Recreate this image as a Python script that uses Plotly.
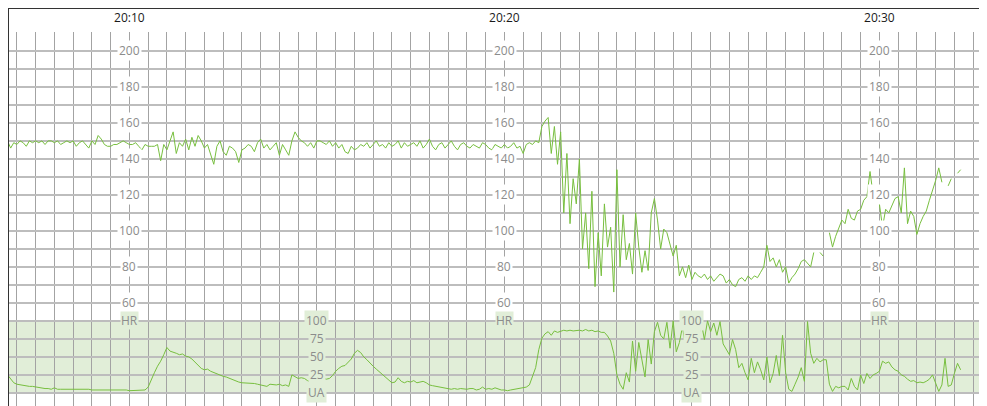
import plotly.graph_objects as go
import pandas as pd

# Trace sampled every 5 seconds, first sample at 20:06:45
START = "2024-05-14 20:06:45"
STEP = "5s"

# Foetal heart rate (bpm), None = signal lost
hr = [
    150, 146, 149, 148, 150, 149, 147, 150, 149, 150,
    149, 150, 148, 150, 150, 149, 150, 148, 149, 150,
    149, 150, 147, 149, 150, 148, 146, 150, 148, 153,
    151, 148, 147, 147, 148, 148, 149, 150, 149, 148,
    148, 149, 147, 145, 148, 147, 147, 147, 148, 139,
    148, 145, 150, 155, 143, 149, 147, 151, 145, 152,
    147, 153, 150, 146, 148, 143, 137, 147, 150, 144,
    142, 147, 146, 144, 138, 145, 146, 148, 147, 144,
    149, 151, 146, 148, 145, 147, 149, 142, 148, 145,
    142, 150, 155, 152, 150, 149, 147, 149, 146, 150,
    150, 149, 148, 150, 147, 149, 146, 148, 144, 143,
    147, 145, 146, 148, 147, 149, 146, 148, 150, 147,
    148, 146, 149, 147, 148, 150, 146, 149, 147, 148,
    149, 147, 150, 146, 148, 151, 147, 145, 148, 149,
    146, 148, 150, 147, 145, 148, 149, 147, 146, 148,
    147, 146, 149, 148, 146, 145, 148, 147, 146, 148,
    146, 147, 149, 146, 147, 143, 148, 149, 148, 150,
    149, 158, 161, 163, 143, 158, 137, 155, 110, 143,
    104, 129, 115, 140, 90, 110, 79, 122, 69, 99,
    75, 115, 91, 102, 66, 134, 80, 109, 84, 93,
    76, 110, 91, 77, 89, 78, 110, 118, 106, 90,
    101, 99, 92, 86, 92, 75, 80, 74, 81, 73,
    77, 75, 74, 76, 73, 75, 72, 74, 76, 75,
    71, 73, 70, 69, 73, 74, 72, 75, 73, 75,
    74, 77, 80, 92, 83, 85, 80, 84, 77, 80,
    71, 74, 76, 79, 83, 84, 82, 80, 88, None,
    88, 86, None, 99, 91, 97, 101, 106, 104, 112,
    107, 106, 111, 112, 117, 119, 133, 120, 117, 115,
    102, 112, 110, 114, 118, 119, 110, 135, 104, 111,
    108, 98, 104, 108, 111, 117, 122, 128, 135, 127,
    None, 125, 129, None, 132, 134,
]

# Uterine activity (0-100)
ua = [
    25, 19, 14, 12, 11, 11, 10, 9, 9, 8,
    7, 7, 6, 6, 5, 7, 5, 5, 5, 6,
    5, 5, 5, 6, 5, 5, 5, 4, 4, 5,
    4, 4, 5, 4, 4, 5, 4, 4, 4, 3,
    3, 3, 3, 3, 4, 8, 19, 28, 37, 44,
    53, 63, 58, 57, 55, 53, 54, 51, 50, 47,
    43, 38, 34, 32, 33, 30, 28, 26, 24, 23,
    22, 20, 19, 17, 15, 14, 14, 14, 13, 13,
    12, 11, 10, 9, 12, 11, 11, 12, 10, 11,
    9, 25, 22, 20, 21, 20, 17, 15, 63, 20,
    18, 20, 19, 20, 24, 30, 34, 37, 38, 42,
    47, 55, 59, 56, 50, 46, 41, 37, 33, 29,
    25, 21, 17, 14, 15, 21, 16, 14, 16, 15,
    17, 14, 15, 16, 14, 11, 10, 9, 8, 7,
    6, 6, 5, 6, 5, 6, 5, 5, 6, 6,
    4, 5, 8, 5, 6, 5, 7, 5, 4, 4,
    3, 4, 5, 6, 6, 7, 8, 11, 22, 35,
    60, 76, 82, 85, 80, 86, 84, 86, 87, 86,
    87, 86, 87, 87, 86, 88, 86, 87, 85, 86,
    84, 84, 79, 72, 55, 25, 12, 5, 28, 15,
    72, 30, 70, 45, 22, 74, 40, 85, 98, 80,
    75, 98, 62, 100, 57, 70, 92, 62, 46, 73,
    53, 74, 98, 74, 100, 85, 97, 80, 99, 68,
    60, 53, 74, 60, 35, 41, 28, 18, 48, 28,
    43, 32, 18, 50, 14, 27, 52, 24, 80, 28,
    5, 2, 12, 22, 35, 16, 99, 55, 41, 48,
    43, 46, 46, 12, 2, 9, 7, 9, 9, 4,
    20, 9, 4, 25, 13, 27, 20, 25, 27, 30,
    44, 41, 43, 36, 32, 30, 25, 23, 19, 16,
    17, 14, 15, 14, 16, 19, 25, 12, 2, 11,
    48, 9, 11, 27, 41, 32,
]

# scale labels drawn inside the paper
hr_label_times = ["20:10", "20:20", "20:30"]
hr_label_vals = [200, 180, 160, 140, 120, 100, 80, 60]
ua_label_times = ["20:15", "20:25"]
ua_label_vals = [100, 75, 50, 25]

DAY = "2024-05-14 "
X_RANGE = [DAY + "20:06:45.76", DAY + "20:32:52.16"]
HR_RANGE = [2.7, 210.5]
# UA 0..100 sits on the HR paper between 10 and 50 bpm
UA_RANGE = [(HR_RANGE[0] - 10) / 0.4, (HR_RANGE[1] - 10) / 0.4]

GREEN = "#78bf3f"
BAND = "#e1eed8"
LABEL = "#8c8c8c"

# page body keeps its 8px margin, so the figure is 8px smaller than the window
W, H = 979, 398
T = 24

times = pd.date_range(START, periods=len(hr), freq=STEP)

fig = go.Figure()
fig.add_trace(go.Scatter(x=times, y=hr, mode="lines", line=dict(color=GREEN, width=1),
                         name="HR", yaxis="y"))
fig.add_trace(go.Scatter(x=times, y=ua, mode="lines", line=dict(color=GREEN, width=1),
                         name="UA", yaxis="y2"))

annotations = []
for t in hr_label_times:
    for v in hr_label_vals:
        annotations.append(dict(x=DAY + t, y=v, xref="x", yref="y", text=str(v), showarrow=False,
                                font=dict(size=12, color=LABEL), bgcolor="white", borderpad=1))
    annotations.append(dict(x=DAY + t, y=50, xref="x", yref="y", text="HR", showarrow=False,
                            font=dict(size=12, color=LABEL), bgcolor=BAND, borderpad=0))
for t in ua_label_times:
    for v in ua_label_vals:
        annotations.append(dict(x=DAY + t, y=v, xref="x", yref="y2", text=str(v), showarrow=False,
                                font=dict(size=12, color=LABEL), bgcolor=BAND, borderpad=1))
    annotations.append(dict(x=DAY + t, y=0, xref="x", yref="y2", text="UA", showarrow=False,
                            font=dict(size=12, color=LABEL), bgcolor=BAND, borderpad=1))

top = H / (H - T)
fig.update_layout(
    width=W, height=H,
    margin=dict(l=0, r=0, t=T, b=0, autoexpand=False),
    paper_bgcolor="white", plot_bgcolor="white",
    showlegend=False,
    font=dict(family="Open Sans, sans-serif"),
    xaxis=dict(type="date", range=X_RANGE, side="top", tickformat="%H:%M",
               dtick=600000, tick0=DAY + "20:10", ticks="", automargin=False,
               ticklabelstandoff=7,
               tickfont=dict(size=12, color="#1a1a1a"),
               showgrid=True, gridcolor="#a3a3a3", gridwidth=1,
               minor=dict(dtick=30000, tick0=DAY + "20:10", showgrid=True,
                          gridcolor="#a3a3a3", gridwidth=1),
               showline=False, zeroline=False),
    yaxis=dict(range=HR_RANGE, dtick=10, tick0=0, showticklabels=False, ticks="",
               automargin=False,
               showgrid=True, gridcolor="#bdbdbd", gridwidth=1.5, zeroline=False, showline=False),
    yaxis2=dict(range=UA_RANGE, overlaying="y", showticklabels=False, showgrid=False,
                zeroline=False, ticks="", automargin=False),
    shapes=[
        dict(type="rect", xref="paper", yref="y", x0=0, x1=1, y0=10, y1=50,
             fillcolor=BAND, line=dict(width=0), layer="below"),
        dict(type="line", xref="paper", yref="paper", x0=0, x1=0, y0=0, y1=top,
             line=dict(color="#333", width=2)),
        dict(type="line", xref="paper", yref="paper", x0=0, x1=1, y0=top, y1=top,
             line=dict(color="#333", width=2)),
    ],
    annotations=annotations,
)

fig.write_html("out.html")
